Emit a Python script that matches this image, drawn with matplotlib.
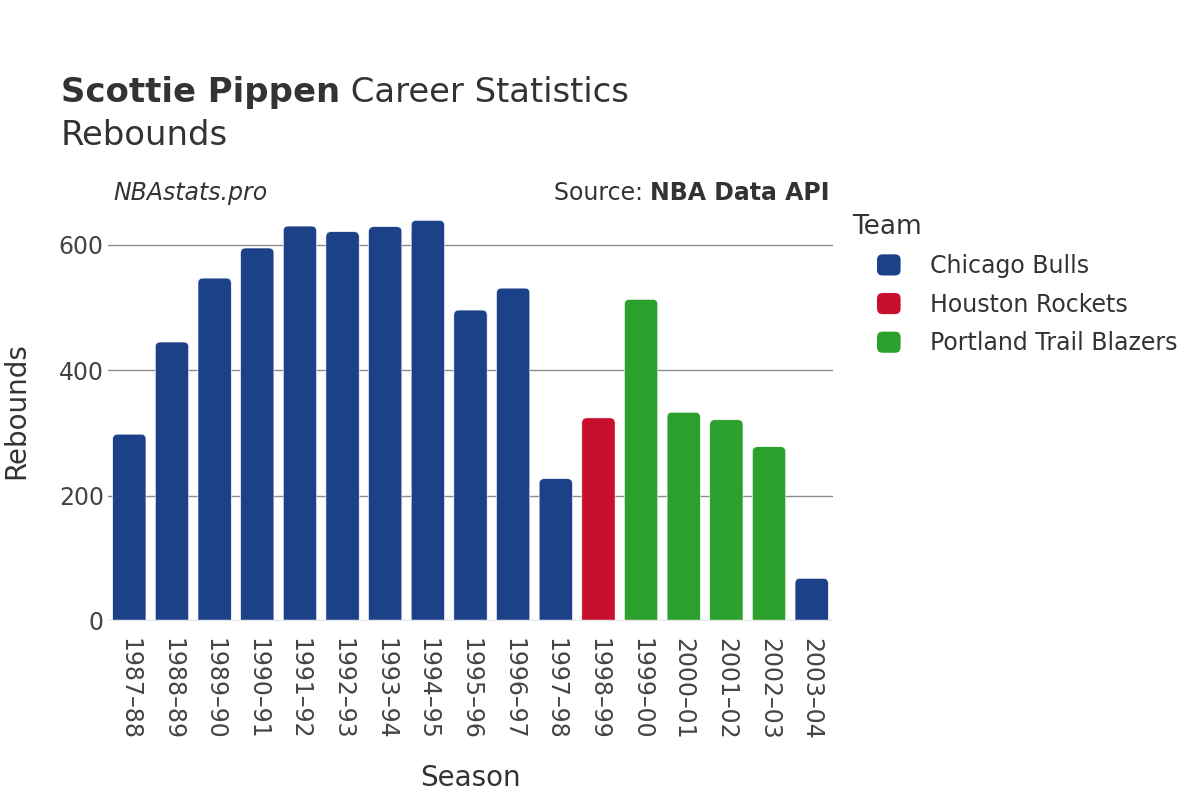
import matplotlib
matplotlib.use("Agg")
import matplotlib.pyplot as plt
from matplotlib.patches import Patch, PathPatch, FancyBboxPatch
from matplotlib.path import Path
from matplotlib.legend_handler import HandlerPatch

# Data
seasons = ["1987–88", "1988–89", "1989–90", "1990–91", "1991–92", "1992–93",
           "1993–94", "1994–95", "1995–96", "1996–97", "1997–98", "1998–99",
           "1999–00", "2000–01", "2001–02", "2002–03", "2003–04"]
rebounds = [298, 445, 547, 595, 630, 621, 629, 639, 496, 531, 227, 324,
            513, 333, 321, 278, 68]
teams = ["Chicago Bulls"] * 11 + ["Houston Rockets"] + ["Portland Trail Blazers"] * 4 + ["Chicago Bulls"]
team_names = ["Chicago Bulls", "Houston Rockets", "Portland Trail Blazers"]
team_colors = {"Chicago Bulls": "#1d4189", "Houston Rockets": "#c8102e",
               "Portland Trail Blazers": "#2ca02c"}

text_col = "#333333"
tick_col = "#444444"

fig = plt.figure(figsize=(12, 8), dpi=100)
ax = fig.add_axes([108 / 1200, 179 / 800, 725 / 1200, 420 / 800])

ymax = 670
ax.set_xlim(-0.5, len(seasons) - 0.5)
ax.set_ylim(0, ymax)

# bars: draw with ax.bar, then swap for rounded-top paths
bars = ax.bar(range(len(seasons)), rebounds, width=0.78,
              color=[team_colors[t] for t in teams])
px_x = 725 / len(seasons)
px_y = 420 / ymax
r_px = 5
for rect, t in zip(bars, teams):
    x0, w, h = rect.get_x(), rect.get_width(), rect.get_height()
    rx, ry = r_px / px_x, r_px / px_y
    verts = [(x0, 0), (x0, h - ry), (x0, h), (x0 + rx, h), (x0 + w - rx, h),
             (x0 + w, h), (x0 + w, h - ry), (x0 + w, 0), (x0, 0)]
    codes = [Path.MOVETO, Path.LINETO, Path.CURVE3, Path.CURVE3, Path.LINETO,
             Path.CURVE3, Path.CURVE3, Path.LINETO, Path.CLOSEPOLY]
    ax.add_patch(PathPatch(Path(verts, codes), facecolor=team_colors[t],
                           edgecolor="white", linewidth=0.4, zorder=3))
    rect.set_visible(False)

# axes styling
for s in ax.spines.values():
    s.set_visible(False)
ax.axhline(0, color="#e6e6e6", linewidth=2.5, zorder=4)
ax.set_yticks([0, 200, 400, 600])
ax.yaxis.grid(True, color="#8c8c8c", linewidth=1)
ax.set_axisbelow(True)
ax.set_xticks(range(len(seasons)))
ax.set_xticklabels(seasons, rotation=-90)
ax.tick_params(axis="x", length=0, pad=12, labelsize=17, labelcolor=tick_col)
ax.tick_params(axis="y", length=0, pad=3, labelsize=17, labelcolor=tick_col)

fig.text(470 / 1200, 1 - 778 / 800, "Season", ha="center", va="center",
         fontsize=20, color=text_col)
fig.text(16 / 1200, 1 - 411 / 800, "Rebounds", ha="center", va="center",
         rotation=90, fontsize=20, color=text_col)

# titles
renderer = fig.canvas.get_renderer()
t1 = fig.text(61 / 1200, 1 - 102 / 800, "Scottie Pippen", fontsize=24.4,
              fontweight="bold", color=text_col, va="baseline")
bb = t1.get_window_extent(renderer)
fig.text(bb.x1 / 1200, 1 - 102 / 800, " Career Statistics", fontsize=24.4,
         color=text_col, va="baseline")
fig.text(61 / 1200, 1 - 145 / 800, "Rebounds", fontsize=24.4, color=text_col,
         va="baseline")

fig.text(113 / 1200, 1 - 200 / 800, "NBAstats.pro", fontsize=17,
         style="italic", color=text_col, va="baseline")
s2 = fig.text(830 / 1200, 1 - 200 / 800, "NBA Data API", fontsize=17,
              fontweight="bold", color=text_col, va="baseline", ha="right")
bb2 = s2.get_window_extent(renderer)
fig.text(bb2.x0 / 1200, 1 - 200 / 800, "Source: ", fontsize=17,
         color=text_col, va="baseline", ha="right")


# legend with rounded square markers
class RoundHandler(HandlerPatch):
    def create_artists(self, legend, orig_handle, xdescent, ydescent,
                       width, height, fontsize, trans):
        p = FancyBboxPatch((-xdescent, -ydescent), width, height,
                           boxstyle="round,pad=0,rounding_size=4",
                           facecolor=orig_handle.get_facecolor(),
                           edgecolor="none", transform=trans)
        return [p]


handles = [Patch(facecolor=team_colors[n], label=n) for n in team_names]
fig.legend(handles=handles, loc="upper left",
           bbox_to_anchor=(877 / 1200, 1 - 254 / 800),
           frameon=False, fontsize=17, labelcolor=text_col,
           handlelength=1.0, handleheight=1.0, handletextpad=1.25,
           labelspacing=0.62, borderpad=0, borderaxespad=0,
           handler_map={Patch: RoundHandler()})
fig.text(852 / 1200, 1 - 227 / 800, "Team", fontsize=19, color=text_col,
         va="center")

plt.savefig("out.png", dpi=100, facecolor="white")
plt.close()
